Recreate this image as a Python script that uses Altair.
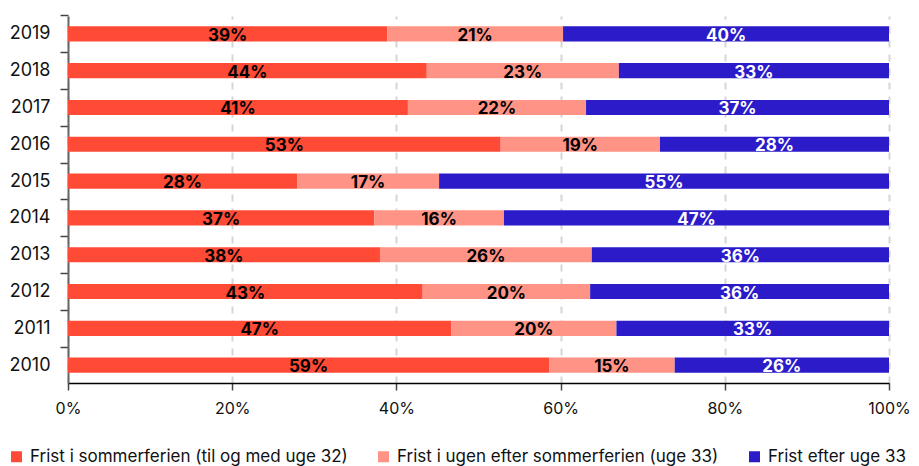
import altair as alt
import pandas as pd

years = ["2019", "2018", "2017", "2016", "2015", "2014", "2013", "2012", "2011", "2010"]
categories = [
    "Frist i sommerferien (til og med uge 32)",
    "Frist i ugen efter sommerferien (uge 33)",
    "Frist efter uge 33",
]
before = [38.9, 43.7, 41.4, 52.7, 27.9, 37.3, 38.0, 43.2, 46.7, 58.6]
week33 = [21.4, 23.4, 21.7, 19.4, 17.3, 15.8, 25.8, 20.4, 20.1, 15.3]
after = [39.7, 32.9, 36.9, 27.9, 54.8, 46.9, 36.2, 36.4, 33.2, 26.1]
colors = ["#FF4A36", "#FF9386", "#2B1BC9"]

rows = []
for i, y in enumerate(years):
    for k, vals in enumerate([before, week33, after]):
        rows.append({"year": y, "cat": categories[k], "ord": k, "v": vals[i] / 100})
df = pd.DataFrame(rows)

FONT = "Inter"
H = 367
STEP = H / 9.97

base = alt.Chart(df).transform_stack(
    stack="v", groupby=["year"], as_=["s0", "s1"], sort=[alt.SortField("ord", order="ascending")]
).transform_calculate(
    mid="(datum.s0 + datum.s1) / 2",
    label="format(datum.v, '.0%')",
)

yenc = alt.Y(
    "year:N",
    sort=years,
    title=None,
    scale=alt.Scale(paddingInner=0.59, paddingOuter=0.28),
    axis=alt.Axis(
        tickOffset=-STEP / 2,
        labelOffset=STEP / 2,
        tickSize=8,
        labelPadding=10,
        labelFontSize=18,
        labelFont=FONT,
        labelColor="#111",
        domainColor="#666",
        domainWidth=2,
        tickColor="#444",
        tickWidth=1.5,
        grid=False,
    ),
)

bars = base.mark_bar().encode(
    x=alt.X(
        "s0:Q",
        scale=alt.Scale(domain=[0, 1], nice=False),
        title=None,
        axis=alt.Axis(
            format=".0%",
            values=[0, 0.2, 0.4, 0.6, 0.8, 1.0],
            tickSize=7,
            labelPadding=10,
            labelFontSize=16,
            labelFont=FONT,
            labelColor="#111",
            labelFlush=False,
            domainColor="#000",
            domainWidth=1.5,
            tickColor="#444",
            tickWidth=1.5,
            grid=True,
            gridDash=[7, 7],
            gridColor="#d6d6d6",
            gridWidth=2,
        ),
    ),
    x2="s1:Q",
    y=yenc,
    color=alt.Color(
        "cat:N",
        scale=alt.Scale(domain=categories, range=colors),
        legend=alt.Legend(
            title=None,
            orient="none",
            direction="horizontal",
            legendX=-60,
            legendY=432,
            symbolType="square",
            symbolSize=121,
            symbolStrokeWidth=0,
            labelFontSize=17,
            labelFont=FONT,
            labelColor="#111",
            labelOffset=5,
            columnPadding=27,
            labelLimit=500,
            padding=0,
        ),
    ),
)

texts = base.mark_text(
    font=FONT, fontSize=17, fontWeight="bold", baseline="middle", dy=2
).encode(
    x=alt.X("mid:Q"),
    y=alt.Y("year:N", sort=years),
    text="label:N",
    color=alt.condition("datum.ord == 2", alt.value("white"), alt.value("black")),
)

chart = alt.layer(bars, texts).properties(
    width=821,
    height=H,
    autosize=alt.AutoSizeParams(type="none"),
    padding={"left": 60, "top": 8, "right": 22, "bottom": 83},
).configure_view(stroke=None)

chart.save("out.html", embed_options={"renderer": "svg", "actions": False})
